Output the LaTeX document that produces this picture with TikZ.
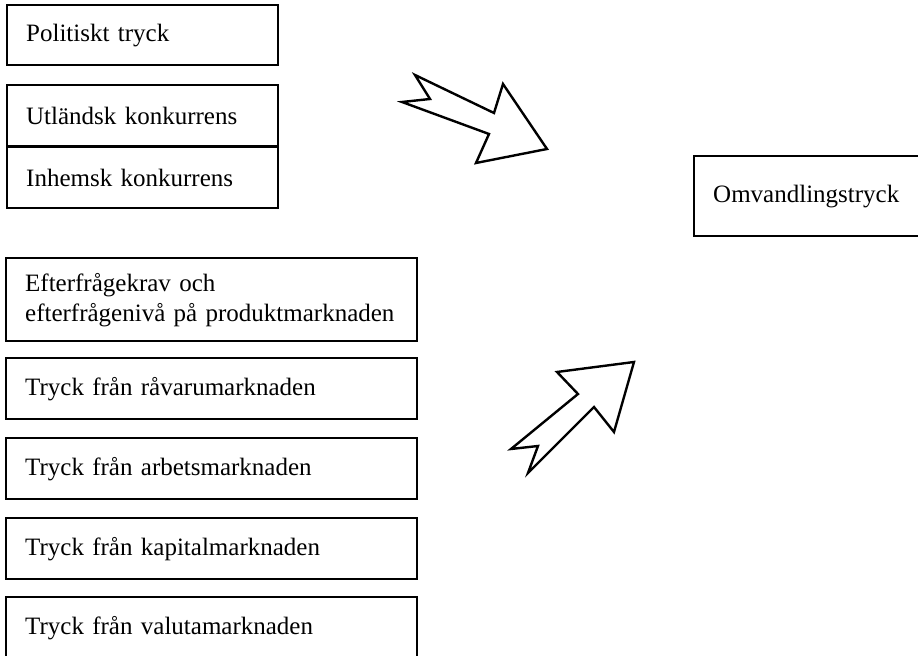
\documentclass[tikz,border=0pt]{standalone}
\usepackage{fontspec}
\setmainfont{Liberation Serif}
\begin{document}
\begin{tikzpicture}[x=0.5pt, y=-0.5pt, line width=1.2pt,
    box/.style={draw, rectangle, anchor=north west, align=left, inner xsep=9.5pt, inner ysep=0pt,
      font=\fontsize{12.5}{15}\selectfont},
    smallbox/.style={box, text width=116.5pt, minimum height=30.5pt},
    widebox/.style={box, text width=186.5pt, minimum height=30.5pt}]
  \clip (0,0) rectangle (918,656);
  \node[smallbox, minimum height=30pt] (pol) at (6,4) {Politiskt tryck};
  \node[smallbox] (utl) at (6,84) {Utländsk konkurrens};
  \node[smallbox] (inh) at (6,146) {Inhemsk konkurrens};
  \node[widebox, minimum height=41.5pt] (eft) at (5,257) {Efterfrågekrav och\\efterfrågenivå på produktmarknaden};
  \node[widebox] (rav) at (5,357) {Tryck från råvarumarknaden};
  \node[widebox] (arb) at (5,437) {Tryck från arbetsmarknaden};
  \node[widebox] (kap) at (5,517) {Tryck från kapitalmarknaden};
  \node[widebox] (val) at (5,596) {Tryck från valutamarknaden};
  \node[box, text width=140pt, minimum height=40pt] (omv) at (693,155) {Omvandlingstryck};
  % block arrows
  \draw[line join=miter] (415,75) -- (430,99) -- (402,102) -- (489,134) -- (476,163)
    -- (547,149) -- (503,84) -- (494,113) -- cycle;
  \draw[line join=miter] (634,362) -- (557,372) -- (578,394) -- (511,449) -- (538,446)
    -- (528,473) -- (594,407) -- (614,432) -- cycle;
\end{tikzpicture}
\end{document}
